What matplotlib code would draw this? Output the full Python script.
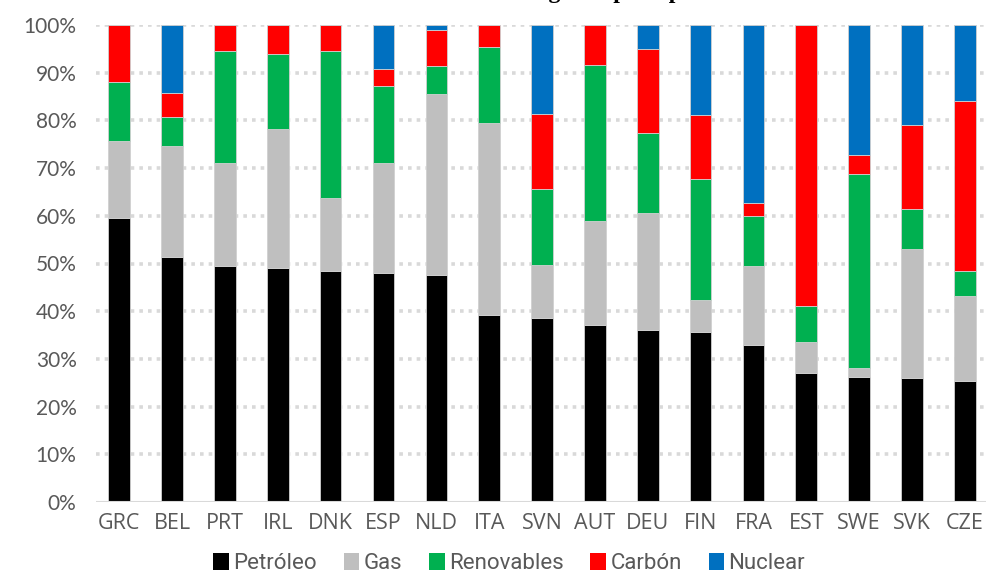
import numpy as np
import matplotlib.pyplot as plt
from matplotlib.patches import Patch

countries = ["GRC", "BEL", "PRT", "IRL", "DNK", "ESP", "NLD", "ITA", "SVN",
             "AUT", "DEU", "FIN", "FRA", "EST", "SWE", "SVK", "CZE"]

# shares in %
petroleo = [59.5, 51.3, 49.4, 49.1, 48.5, 48.0, 47.5, 39.3, 38.5,
            37.2, 36.0, 35.7, 33.0, 27.0, 26.3, 26.0, 25.4]
gas = [16.2, 23.3, 21.6, 29.1, 15.3, 23.0, 38.1, 40.2, 11.2,
       21.7, 24.6, 6.7, 16.4, 6.6, 1.8, 27.0, 17.8]
renovables = [12.3, 6.2, 23.5, 15.8, 30.7, 16.2, 5.7, 15.9, 16.0,
              32.8, 16.7, 25.4, 10.6, 7.4, 40.7, 8.5, 5.2]
carbon = [12.0, 5.0, 5.5, 6.0, 5.5, 3.5, 7.7, 4.6, 15.6,
          8.3, 17.7, 13.4, 2.7, 59.0, 3.9, 17.5, 35.6]
nuclear = [0.0, 14.2, 0.0, 0.0, 0.0, 9.3, 1.0, 0.0, 18.7,
           0.0, 5.0, 18.8, 37.3, 0.0, 27.3, 21.0, 16.0]

series = [("Petróleo", petroleo, "#000000"),
          ("Gas", gas, "#BFBFBF"),
          ("Renovables", renovables, "#00B050"),
          ("Carbón", carbon, "#FF0000"),
          ("Nuclear", nuclear, "#0070C0")]

fig = plt.figure(figsize=(9.87, 5.86), dpi=100)
ax = fig.add_axes([96/987, 1 - 502/586, 891/987, 477/586])

x = np.arange(len(countries))
bottom = np.zeros(len(countries))
for name, vals, col in series:
    vals = np.array(vals)
    ax.bar(x, vals, width=0.41, bottom=bottom, color=col, label=name,
           edgecolor="#d0d0d0", linewidth=0.6, zorder=3)
    bottom += vals

ax.set_xlim(-0.44, 16.42)
ax.set_ylim(0, 100)
ax.set_yticks(range(0, 101, 10))
ax.set_yticklabels([f"{v}%" for v in range(0, 101, 10)],
                   fontsize=15, color="#595959", family="Lato")
ax.set_xticks(x)
ax.set_xticklabels(countries, fontsize=15.5, color="#595959", family="Open Sans")
ax.tick_params(length=0, pad=8)
ax.tick_params(axis="y", pad=14)

for v in range(10, 101, 10):
    ax.axhline(v, color="#D9D9D9", lw=2.6, ls=(0, (1, 1.4)), zorder=1)
ax.axhline(0, color="#D9D9D9", lw=1.5, zorder=4)

for s in ax.spines.values():
    s.set_visible(False)

# title sits above the visible area, only descenders show (as in the source)
fig.text(0.555, 1 + 2/586, "Consumo energético por tipo", ha="center",
         va="baseline", fontsize=17, fontweight="bold", family="Liberation Serif")

handles = [Patch(facecolor=c, label=n) for n, _, c in series]
fig.legend(handles=handles, loc="lower center", bbox_to_anchor=(0.516, -0.014),
           ncol=5, frameon=False, handlelength=0.7, handleheight=0.8,
           handletextpad=0.2, columnspacing=1.2,
           prop={"family": "Roboto", "size": 16},
           labelcolor="#595959")

fig.savefig("out.png", dpi=100)
